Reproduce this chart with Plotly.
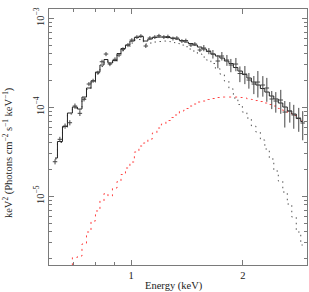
import plotly.graph_objects as go

# Bin centre energies (keV)
energy = [0.623, 0.642, 0.663, 0.683, 0.705, 0.727, 0.746, 0.769, 0.789, 0.813,
          0.834, 0.855, 0.876, 0.904, 0.927, 0.950, 0.980, 1.004, 1.036, 1.062,
          1.095, 1.123, 1.158, 1.188, 1.225, 1.256, 1.296, 1.328, 1.370, 1.404,
          1.449, 1.485, 1.532, 1.570, 1.620, 1.661, 1.713, 1.756, 1.812, 1.857,
          1.916, 1.964, 2.026, 2.077, 2.142, 2.196, 2.265, 2.322, 2.394, 2.455,
          2.532, 2.596, 2.678, 2.745, 2.831, 2.902]

# Observed spectrum (keV^2 Photons cm^-2 s^-1 keV^-1)
data_flux = [2.447e-5, 4.369e-5, 6.164e-5, 6.714e-5, 1.034e-4, 8.56e-5, 1.230e-4, 1.827e-4, 1.990e-4, 2.447e-4,
             3.253e-4, 3.970e-4, 3.065e-4, 3.462e-4, 3.868e-4, 4.485e-4, 5.012e-4, 5.704e-4, 6.165e-4, 6.325e-4,
             4.885e-4, 6.007e-4, 6.165e-4, 6.375e-4, 6.165e-4, 6.244e-4, 5.930e-4, 6.007e-4, 5.558e-4, 5.631e-4,
             5.012e-4, 5.143e-4, 4.404e-4, 4.638e-4, 4.292e-4, 3.970e-4, 3.313e-4, 3.771e-4, 3.400e-4, 2.988e-4,
             3.065e-4, 2.398e-4, 2.367e-4, 2.026e-4, 1.827e-4, 1.924e-4, 1.781e-4, 1.648e-4, 1.240e-4, 1.177e-4,
             1.208e-4, 8.85e-5, 9.09e-5, 8.20e-5, 7.58e-5, 6.66e-5]

# Relative 1-sigma errors of the observed points
data_rel_err = [0.067, 0.067, 0.067, 0.067, 0.067, 0.067, 0.053, 0.053, 0.053, 0.053,
                0.053, 0.053, 0.053, 0.053, 0.053, 0.053, 0.053, 0.05, 0.05, 0.05,
                0.05, 0.05, 0.05, 0.05, 0.05, 0.05, 0.05, 0.05, 0.05, 0.05,
                0.05, 0.05, 0.05, 0.08, 0.08, 0.11, 0.17, 0.11, 0.14, 0.17,
                0.17, 0.20, 0.23, 0.20, 0.23, 0.33, 0.26, 0.30, 0.23, 0.26,
                0.30, 0.33, 0.26, 0.30, 0.30, 0.36]

# Total model (histogram)
model_total = [2.693e-5, 4.127e-5, 6.085e-5, 8.630e-5, 1.008e-4, 9.57e-5, 1.305e-4, 1.648e-4, 1.975e-4, 2.492e-4,
               2.988e-4, 3.444e-4, 3.146e-4, 3.356e-4, 4.022e-4, 4.579e-4, 5.012e-4, 5.558e-4, 6.085e-4, 6.244e-4,
               5.558e-4, 5.853e-4, 6.085e-4, 6.165e-4, 6.165e-4, 6.085e-4, 6.007e-4, 5.853e-4, 5.631e-4, 5.417e-4,
               5.211e-4, 5.012e-4, 4.760e-4, 4.520e-4, 4.236e-4, 3.970e-4, 3.771e-4, 3.580e-4, 3.313e-4, 3.105e-4,
               2.801e-4, 2.557e-4, 2.336e-4, 2.134e-4, 1.924e-4, 1.781e-4, 1.626e-4, 1.485e-4, 1.340e-4, 1.240e-4,
               1.118e-4, 1.008e-4, 9.09e-5, 8.41e-5, 7.48e-5, 6.92e-5]

# Soft (black dotted) component
model_soft = [2.625e-5, 4.022e-5, 5.929e-5, 8.41e-5, 9.82e-5, 9.32e-5, 1.256e-4, 1.585e-4, 1.900e-4, 2.398e-4,
              2.873e-4, 3.313e-4, 3.026e-4, 3.228e-4, 3.819e-4, 4.347e-4, 4.760e-4, 5.278e-4, 5.704e-4, 5.778e-4,
              5.143e-4, 5.278e-4, 5.417e-4, 5.487e-4, 5.558e-4, 5.487e-4, 5.347e-4, 5.211e-4, 5.012e-4, 4.797e-4,
              4.520e-4, 4.292e-4, 3.970e-4, 3.674e-4, 3.400e-4, 3.105e-4, 2.729e-4, 2.367e-4, 1.975e-4, 1.606e-4,
              1.272e-4, 1.075e-4, 8.85e-5, 7.58e-5, 6.164e-5, 5.28e-5, 4.292e-5, 3.40e-5, 2.625e-5, 1.924e-5,
              1.485e-5, 1.117e-5, 8.19e-6, 5.85e-6, 3.97e-6, 2.836e-6]

# Hard (red dotted) component
model_hard = [8.86e-7, 1.089e-6, 1.339e-6, 1.647e-6, 2.053e-6, 2.134e-6, 2.911e-6, 3.97e-6, 5.28e-6, 6.84e-6,
              8.86e-6, 1.075e-5, 1.008e-5, 1.240e-5, 1.466e-5, 1.757e-5, 2.080e-5, 2.428e-5, 3.146e-5, 3.674e-5,
              3.970e-5, 4.403e-5, 5.145e-5, 5.853e-5, 6.492e-5, 7.107e-5, 7.68e-5, 8.20e-5, 9.09e-5, 9.694e-5,
              1.034e-4, 1.089e-4, 1.147e-4, 1.177e-4, 1.224e-4, 1.256e-4, 1.289e-4, 1.305e-4, 1.305e-4, 1.305e-4,
              1.305e-4, 1.289e-4, 1.272e-4, 1.240e-4, 1.224e-4, 1.192e-4, 1.162e-4, 1.118e-4, 1.075e-4, 1.034e-4,
              9.694e-5, 9.21e-5, 8.63e-5, 8.09e-5, 7.48e-5, 7.02e-5]

x_tick_vals = [1, 2]
x_tick_text = ["1", "2"]
x_minor_vals = [0.6, 0.7, 0.8, 0.9]
y_tick_vals = [1e-5, 1e-4, 1e-3]
y_tick_text = ["10<sup>\u22125</sup>", "10<sup>\u22124</sup>", "10<sup>\u22123</sup>"]
y_minor_vals = [m * 10.0 ** p for p in (-6, -5, -4, -3) for m in range(2, 10)]

FONT = "Liberation Serif, Times New Roman, serif"
AX = "#7a7a7a"

err_abs = [f * r for f, r in zip(data_flux, data_rel_err)]

fig = go.Figure()

fig.add_trace(go.Scatter(
    x=energy, y=model_hard, mode="lines", line_shape="hvh",
    line=dict(color="#ff4040", width=1, dash="2px,4px"), hoverinfo="skip"))
fig.add_trace(go.Scatter(
    x=energy, y=model_soft, mode="lines", line_shape="hvh",
    line=dict(color="#555555", width=1, dash="1.5px,4px"), hoverinfo="skip"))
fig.add_trace(go.Scatter(
    x=energy, y=model_total, mode="lines", line_shape="hvh",
    line=dict(color="#222222", width=1), hoverinfo="skip"))
fig.add_trace(go.Scatter(
    x=energy, y=data_flux, mode="markers",
    marker=dict(size=1, color="rgba(0,0,0,0)"),
    error_y=dict(type="data", array=err_abs, symmetric=True, color="#444444", thickness=1, width=0),
    error_x=dict(type="percent", value=1.4, color="#444444", thickness=1, width=0),
    hoverinfo="skip"))

fig.update_layout(
    width=309, height=292,
    margin=dict(l=49, r=2, t=9, b=27),
    paper_bgcolor="white", plot_bgcolor="white",
    showlegend=False,
    font=dict(family=FONT, size=10.5, color="#222222"),
    xaxis=dict(
        type="log", range=[-0.2218, 0.4742],
        tickmode="array", tickvals=x_tick_vals, ticktext=x_tick_text,
        ticks="inside", ticklen=5, tickwidth=1, tickcolor=AX,
        showline=True, linecolor=AX, linewidth=1, mirror="allticks",
        showgrid=False, zeroline=False,
        tickfont=dict(family=FONT, size=10.5, color="#222222"),
        minor=dict(tickmode="array", tickvals=x_minor_vals, ticks="inside",
                   ticklen=3, tickwidth=1, tickcolor=AX, showgrid=False),
    ),
    yaxis=dict(
        type="log", range=[-5.772, -2.895],
        tickmode="array", tickvals=y_tick_vals, ticktext=y_tick_text,
        tickangle=-90,
        ticks="inside", ticklen=5, tickwidth=1, tickcolor=AX,
        showline=True, linecolor=AX, linewidth=1, mirror="allticks",
        showgrid=False, zeroline=False,
        tickfont=dict(family=FONT, size=10.5, color="#222222"),
        minor=dict(tickmode="array", tickvals=y_minor_vals, ticks="inside",
                   ticklen=3, tickwidth=1, tickcolor=AX, showgrid=False),
    ),
    annotations=[
        dict(text="Energy (keV)", xref="paper", yref="paper", x=0.484, y=-0.082,
             xanchor="center", yanchor="middle", showarrow=False,
             font=dict(family=FONT, size=10.5, color="#222222")),
        dict(text="keV<sup>2</sup> (Photons cm<sup>\u22122</sup> s<sup>\u22121</sup> keV<sup>\u22121</sup>)",
             xref="paper", yref="paper", x=-0.159, y=0.441, textangle=-90,
             xanchor="center", yanchor="middle", showarrow=False,
             font=dict(family=FONT, size=10.5, color="#222222")),
    ],
)

fig.write_html("out.html", config={"displayModeBar": False},
               post_script="document.body.style.margin='0';document.body.style.padding='0';")
